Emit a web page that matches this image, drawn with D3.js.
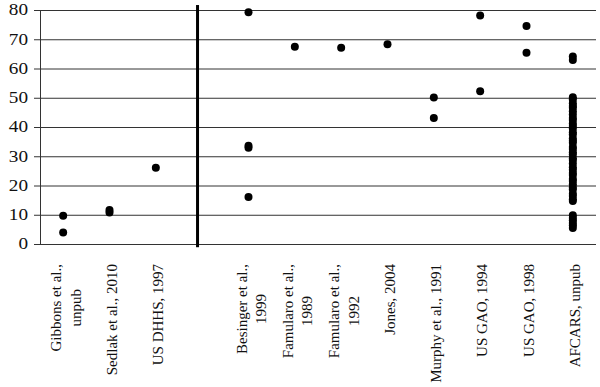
<!DOCTYPE html>
<html>
<head>
<meta charset="utf-8">
<script src="https://cdn.jsdelivr.net/npm/d3@7"></script>
<style>
  body { margin: 0; background: #fff; }
</style>
</head>
<body>
<div id="chart"></div>
<script>
// study labels, "|" splits a label onto two lines; slot 4 is left empty for the divider
const studies = [
  "Gibbons et al.,|unpub", "Sedlak et al., 2010", "US DHHS, 1997", "",
  "Besinger et al.,|1999", "Famularo et al.,|1989", "Famularo et al.,|1992",
  "Jones, 2004", "Murphy et al., 1991", "US GAO, 1994", "US GAO, 1998", "AFCARS, unpub"
]

const gibbons = [9.7, 3.9]
const sedlak = [11.6, 10.8]
const dhhs = [26.1]
const besinger = [79.2, 33.6, 32.9, 16.1]
const famularo89 = [67.4]
const famularo92 = [67.1]
const jones = [68.3]
const murphy = [50.1, 43.1]
const gao94 = [78.1, 52.2]
const gao98 = [74.5, 65.4]
const afcars = [64.1, 62.9, 50.2, 49.4, 48.1, 47.2, 46.6, 45.4, 44.3, 43.1, 42.4, 41.2,
  40.3, 39.5, 38.2, 37.4, 36.1, 35.3, 34.6, 33.2, 32.5, 31.4, 30.6, 29.3, 28.7,
  27.5, 26.2, 25.4, 24.3, 23.6, 22.2, 21.5, 20.4, 19.3, 18.6, 17.2, 16.4, 15.3, 14.7,
  9.8, 8.9, 8.1, 7.2, 6.4, 5.5]

const seriesByStudy = [gibbons, sedlak, dhhs, [], besinger, famularo89, famularo92,
  jones, murphy, gao94, gao98, afcars]

const yTicks = [0, 10, 20, 30, 40, 50, 60, 70, 80]
const dividerAt = 3.9

const width = 600, height = 387
const margin = { top: 10, right: 4, bottom: 143, left: 40 }
const serif = "'Liberation Serif', 'Times New Roman', Times, serif"

const svg = d3.select("#chart").append("svg")
  .attr("width", width)
  .attr("height", height)
  .attr("font-family", serif)

const x = d3.scaleLinear()
  .domain([0.5, studies.length + 0.5])
  .range([margin.left, width - margin.right])

const y = d3.scaleLinear()
  .domain([0, 80])
  .range([height - margin.bottom, margin.top])

// gridlines + left tick stubs
svg.append("g")
  .attr("transform", `translate(${margin.left},0)`)
  .call(d3.axisLeft(y).tickValues(yTicks).tickSize(6).tickFormat(""))
  .call(g => g.select(".domain").attr("stroke", "#333"))
  .call(g => g.selectAll(".tick line").attr("stroke", "#333"))
  .call(g => g.selectAll(".tick").append("line")
    .attr("x2", x.range()[1] - margin.left)
    .attr("stroke", "#333"))

// tick labels (the source image is a bit stretched sideways)
const labelX = margin.left - 12
svg.append("g").selectAll("text")
  .data(yTicks)
  .enter().append("text")
  .attr("y", d => y(d))
  .attr("dy", "0.34em")
  .attr("text-anchor", "end")
  .attr("transform", `translate(${labelX},0) scale(1.2,1)`)
  .attr("font-family", serif)
  .attr("fill", "#111")
  .style("font-size", "16px")
  .text(d => d)

// divider between the two groups of studies
svg.append("line")
  .attr("x1", x(dividerAt)).attr("x2", x(dividerAt))
  .attr("y1", y(81.7)).attr("y2", y(-1.1))
  .attr("stroke", "#000")
  .attr("stroke-width", 3)

// points
const points = []
seriesByStudy.forEach((vals, i) => vals.forEach(v => points.push({ pos: i + 1, value: v })))

svg.append("g").selectAll("circle")
  .data(points)
  .enter().append("circle")
  .attr("cx", d => x(d.pos))
  .attr("cy", d => y(d.value))
  .attr("r", 4)
  .attr("fill", "#000")

// rotated study labels
const labelTop = height - margin.bottom + 20
const labels = svg.append("g").selectAll("g")
  .data(studies.map((s, i) => ({ lines: s ? s.split("|") : [], pos: i + 1 })))
  .enter().append("g")

labels.each(function(d) {
  const g = d3.select(this)
  if (!d.lines.length) return
  const texts = d.lines.map(line => g.append("text")
    .attr("font-family", serif)
    .attr("fill", "#111")
    .style("font-size", "15px")
    .attr("text-anchor", "middle")
    .text(line))
  const longest = d3.max(texts, t => t.node().getComputedTextLength())
  const cy = labelTop + longest / 2
  const first = d.lines.length === 1 ? x(d.pos) + 7 : x(d.pos) - 2
  texts.forEach((t, k) => {
    t.attr("transform", `translate(${first + k * 19.5},${cy}) rotate(-90)`)
  })
})
</script>
</body>
</html>
